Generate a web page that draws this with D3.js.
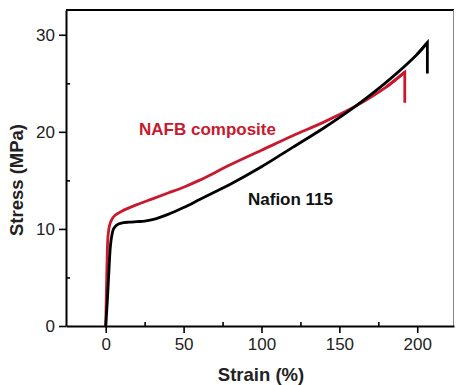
<!DOCTYPE html>
<html lang="en">
  <head>
    <meta charset="UTF-8" />
    <title>Stress vs Strain</title>
    <script src="https://d3js.org/d3.v7.min.js"></script>
    <style>
      body { margin: 0; background: #fff; }
      text { font-family: "Liberation Sans", Arial, sans-serif; }
      .line { fill: none; stroke-width: 2.8px; stroke-linejoin: miter; }
      .axis-label { font-size: 18.5px; font-weight: bold; }
      .series-label { font-size: 17px; font-weight: bold; }
    </style>
  </head>
  <body>
    <svg id="chart" width="456" height="385"></svg>
    <script>
      // NAFB composite (red)
      const strainNafb = [0, 0.5, 1, 1.5, 2.5, 4, 6, 10, 20, 30, 40, 50, 60, 80, 100, 120, 140, 160, 180, 192, 192];
      const stressNafb = [0, 4, 7.5, 9.3, 10.4, 11.0, 11.4, 11.8, 12.5, 13.1, 13.7, 14.3, 15.0, 16.6, 18.1, 19.6, 21.0, 22.6, 24.6, 26.15, 23.0];

      // Nafion 115 (black)
      const strainNafion = [0, 1, 2, 3, 4, 5, 7, 10, 15, 20, 25, 30, 40, 50, 60, 70, 80, 100, 120, 140, 160, 180, 200, 206.5, 206.5];
      const stressNafion = [0, 2.5, 5.5, 8.2, 9.4, 10.0, 10.4, 10.6, 10.7, 10.75, 10.8, 10.95, 11.5, 12.2, 13.0, 13.8, 14.6, 16.4, 18.4, 20.4, 22.6, 25.1, 28.0, 29.2, 26.0];

      const xMajor = [0, 50, 100, 150, 200];
      const xMinor = [25, 75, 125, 175];
      const yMajor = [0, 10, 20, 30];
      const yMinor = [5, 15, 25];

      const svg = d3.select("#chart"),
        margin = { top: 10, left: 66 },
        chartWidth = 388,
        chartHeight = 316;

      const chartArea = svg
        .append("g")
        .attr("transform", `translate(${margin.left},${margin.top})`);

      const xScale = d3.scaleLinear().domain([-25.5, 223.6]).range([0, chartWidth]);
      const yScale = d3.scaleLinear().domain([0, 32.55]).range([chartHeight, 0]);

      const styleAxis = (g) => {
        g.selectAll("path.domain").attr("stroke", "#000").attr("stroke-width", 2);
        g.selectAll(".tick line").attr("stroke", "#000").attr("stroke-width", 1.6);
        g.selectAll(".tick text")
          .attr("fill", "#222")
          .style("font-size", "17px")
          .style("font-family", "'Liberation Sans', Arial, sans-serif");
      };

      // top and right frame
      chartArea.append("line")
        .attr("x1", 0).attr("x2", chartWidth)
        .attr("y1", 0).attr("y2", 0)
        .attr("stroke", "#000").attr("stroke-width", 2);
      chartArea.append("line")
        .attr("x1", chartWidth - 0.5).attr("x2", chartWidth - 0.5)
        .attr("y1", 0).attr("y2", chartHeight)
        .attr("stroke", "#888").attr("stroke-width", 1);

      // x axis
      chartArea.append("g")
        .attr("transform", `translate(0,${chartHeight})`)
        .call(d3.axisBottom(xScale).tickValues(xMajor).tickSize(7).tickSizeOuter(0).tickPadding(5).tickFormat(d3.format("d")))
        .call(styleAxis);
      chartArea.append("g")
        .attr("transform", `translate(0,${chartHeight})`)
        .call(d3.axisTop(xScale).tickValues(xMinor).tickSize(4).tickSizeOuter(0).tickFormat(""))
        .call(styleAxis)
        .call((g) => g.select("path.domain").remove());

      // y axis
      chartArea.append("g")
        .call(d3.axisLeft(yScale).tickValues(yMajor).tickSize(7).tickSizeOuter(0).tickPadding(4).tickFormat(d3.format("d")))
        .call(styleAxis);
      chartArea.append("g")
        .call(d3.axisRight(yScale).tickValues(yMinor).tickSize(4).tickSizeOuter(0).tickFormat(""))
        .call(styleAxis)
        .call((g) => g.select("path.domain").remove());

      const smooth = d3.line()
        .x((d) => xScale(d[0]))
        .y((d) => yScale(d[1]))
        .curve(d3.curveCatmullRom.alpha(0.5));
      const straight = d3.line()
        .x((d) => xScale(d[0]))
        .y((d) => yScale(d[1]));

      // smooth loading part up to the break point, then the straight drop
      const drawCurve = (strain, stress, color) => {
        const pts = d3.zip(strain, stress);
        const n = pts.length;
        chartArea.append("path")
          .datum(pts.slice(0, n - 1))
          .attr("class", "line")
          .attr("stroke", color)
          .attr("d", smooth);
        chartArea.append("path")
          .datum(pts.slice(n - 3))
          .attr("class", "line")
          .attr("stroke", color)
          .attr("d", straight);
      };

      drawCurve(strainNafb, stressNafb, "#c8192e");
      drawCurve(strainNafion, stressNafion, "#000");

      // series labels
      svg.append("text")
        .attr("class", "series-label")
        .attr("x", 139).attr("y", 135)
        .attr("fill", "#c8192e")
        .text("NAFB composite");
      svg.append("text")
        .attr("class", "series-label")
        .attr("x", 248).attr("y", 205)
        .attr("fill", "#111")
        .text("Nafion 115");

      // axis titles
      svg.append("text")
        .attr("class", "axis-label")
        .attr("x", 261).attr("y", 381)
        .attr("text-anchor", "middle")
        .attr("fill", "#222")
        .text("Strain (%)");
      svg.append("text")
        .attr("class", "axis-label")
        .attr("transform", "translate(23,180) rotate(-90)")
        .attr("text-anchor", "middle")
        .attr("fill", "#222")
        .text("Stress (MPa)");
    </script>
  </body>
</html>
